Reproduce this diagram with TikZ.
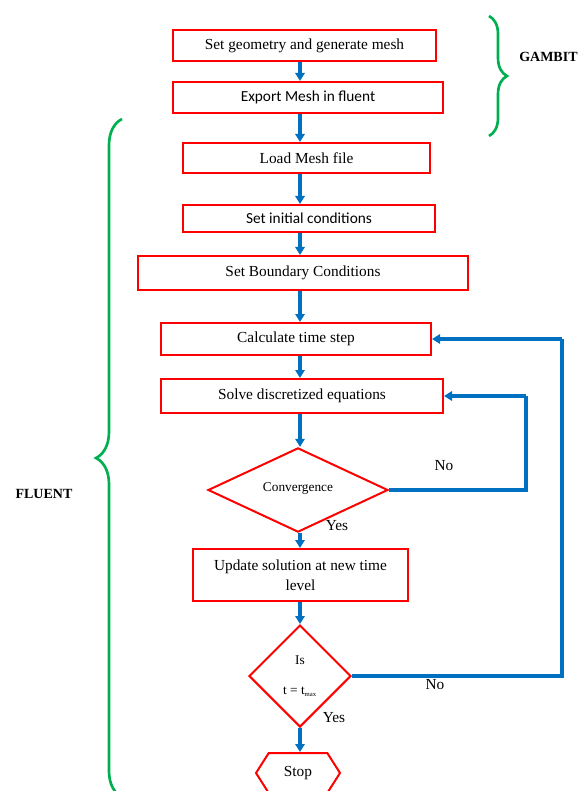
\documentclass[tikz,border=0pt]{standalone}
\usepackage{fontspec}
\setmainfont{Liberation Serif}
\newfontfamily\calib{Carlito}
\usetikzlibrary{shapes.geometric,shapes.symbols,arrows.meta,decorations.pathreplacing}
\definecolor{boxred}{RGB}{255,0,0}
\definecolor{flowblue}{RGB}{0,112,192}
\definecolor{bracegreen}{RGB}{0,176,80}

\begin{document}
\begin{tikzpicture}[x=0.75pt,y=-0.75pt]
        \tikzset{
    proc/.style args={#1x#2}{draw=boxred, line width=1.5pt, inner sep=0pt, align=center,
      minimum width=#1*0.75pt, minimum height=#2*0.75pt, font=\fontsize{11.5}{15}\selectfont},
    decision/.style args={#1x#2}{diamond, draw=boxred, line width=1.5pt, inner sep=0pt, align=center,
      minimum width=#1*0.75pt, minimum height=#2*0.75pt, font=\fontsize{10}{12}\selectfont},
    stopbox/.style={signal, signal to=east and west, signal pointer angle=115, draw=boxred,
      line width=1.5pt, inner sep=0pt, minimum width=84*0.75pt, minimum height=40*0.75pt,
      font=\fontsize{11.5}{13}\selectfont},
    flow/.style={draw=flowblue, line width=2.8pt, -{Triangle[width=7pt,length=6pt]}},
    loopline/.style={draw=flowblue, line width=2.3pt},
    backflow/.style={draw=flowblue, line width=2.3pt, -{Triangle[width=7pt,length=6pt]}},
    answer/.style={font=\fontsize{11.5}{13}\selectfont, inner sep=0pt},
    tool/.style={font=\bfseries\fontsize{10.5}{13}\selectfont, inner sep=0pt},
    curly/.style={draw=bracegreen, line width=2pt, decorate, decoration={brace, amplitude=#1*0.75pt}},
        }
        \useasboundingbox (0,0) rectangle (581,791);
        \coordinate (axis) at (300,0);   % all down arrows run here
        \coordinate (loopA) at (526,0);  % return line of the inner loop
        \coordinate (loopB) at (562,0);  % return line of the outer loop

        % The process boxes, top to bottom.
        \path (304.5,45.5) node[proc=263x31] (geom)   {Set geometry and generate mesh};
        \path (308,97.5)   node[proc=270x31] (export) {\calib Export Mesh in fluent};
        \path (306.5,158)  node[proc=247x30] (load)   {Load Mesh file};
        \path (309,218.5)  node[proc=252x27] (init)   {\calib Set initial conditions};
        \path (303,273)    node[proc=330x34] (bound)  {Set Boundary Conditions};
        \path (296,339)    node[proc=270x32] (tstep)  {Calculate time step};
        \path (302,396)    node[proc=282x34] (solve)  {Solve discretized equations};
        \path (298,490)    node[decision=180x76] (conv) {\raisebox{4pt}{Convergence}};
        \path (300.5,575)  node[proc=215x52] (update) {Update solution at new time\\level};
        \path (300,676)    node[decision=102x102] (ist) {Is\\[11pt]t = t\textsubscript{\tiny max}};
        \path (298,773)    node[stopbox] (stop)   {Stop};

        % Arrows down the main line.
        \draw[flow] (geom.south -| axis)   -- (export.north -| axis);
        \draw[flow] (export.south -| axis) -- (load.north -| axis);
        \draw[flow] (load.south -| axis)   -- (init.north -| axis);
        \draw[flow] (init.south -| axis)   -- (bound.north -| axis);
        \draw[flow] (bound.south -| axis)  -- (tstep.north -| axis);
        \draw[flow] (tstep.south -| axis)  -- (solve.north -| axis);
        \draw[flow] (solve.south -| axis)  -- (conv.north -| axis);
        \draw[flow] (conv.south -| axis)   -- (update.north -| axis);
        \draw[flow] (update.south -| axis) -- (ist.north -| axis);
        \draw[flow] (ist.south -| axis)    -- (stop.north -| axis);

        % The two loops back.
        \draw[loopline] (conv.east) -- (conv.east -| loopA) -- (solve.east -| loopA);
        \draw[backflow] (solve.east -| loopA) -- (solve.east);
        \draw[loopline] (ist.east) -- (ist.east -| loopB) -- (tstep.east -| loopB);
        \draw[backflow] (tstep.east -| loopB) -- (tstep.east);

        \path (444,466) node[answer] (no1)  {No};
        \path (337,526) node[answer] (yes1) {Yes};
        \path (435,685) node[answer] (no2)  {No};
        \path (334,718) node[answer] (yes2) {Yes};

        % Braces for the two programs.
        \draw[curly=18] (489,16) -- (489,136);
        \path (519,57) node[tool, anchor=west] (gambit) {GAMBIT};
        \draw[curly=26] (122,797) -- (122,119);
        \path (44,494) node[tool] (fluent) {FLUENT};
      \end{tikzpicture}
\end{document}
